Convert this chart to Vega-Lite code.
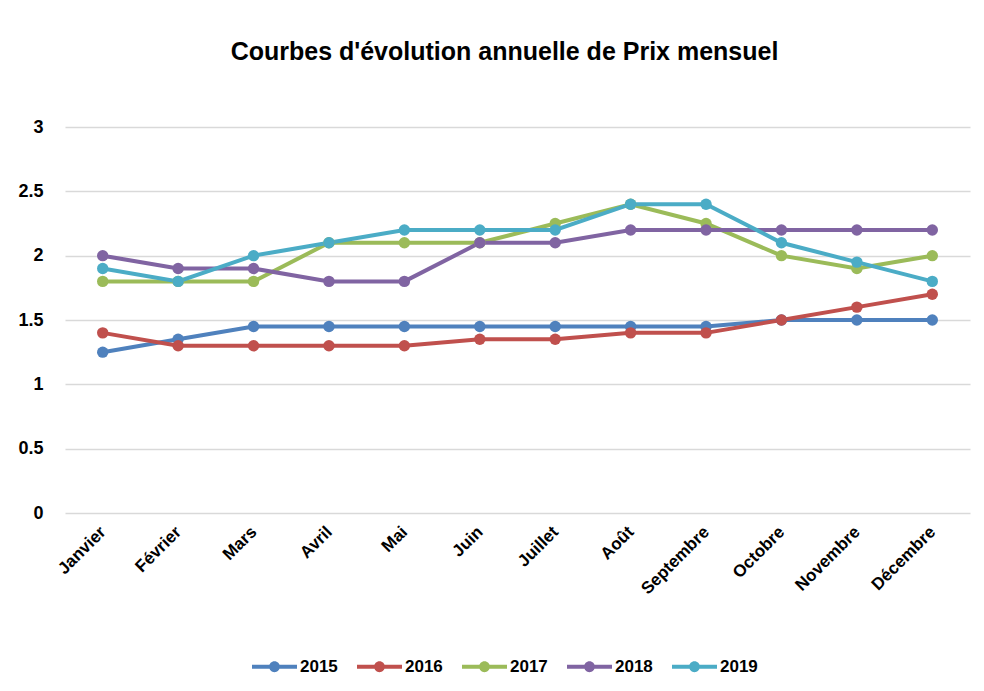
{
  "$schema": "https://vega.github.io/schema/vega-lite/v6.json",
  "width": 905,
  "height": 386,
  "autosize": "none",
  "padding": {"left": 65, "top": 127, "right": 14, "bottom": 178},
  "background": "white",
  "config": {"view": {"stroke": null}},
  "title": {
    "text": "Courbes d'évolution annuelle de Prix mensuel",
    "font": "Liberation Sans",
    "fontSize": 25,
    "fontWeight": "bold",
    "color": "#000000",
    "anchor": "middle",
    "baseline": "alphabetic",
    "offset": 33,
    "dx": -13
  },
  "data": {
    "values": [
      {"mois": "Janvier", "annee": "2015", "prix": 1.25},
      {"mois": "Février", "annee": "2015", "prix": 1.35},
      {"mois": "Mars", "annee": "2015", "prix": 1.45},
      {"mois": "Avril", "annee": "2015", "prix": 1.45},
      {"mois": "Mai", "annee": "2015", "prix": 1.45},
      {"mois": "Juin", "annee": "2015", "prix": 1.45},
      {"mois": "Juillet", "annee": "2015", "prix": 1.45},
      {"mois": "Août", "annee": "2015", "prix": 1.45},
      {"mois": "Septembre", "annee": "2015", "prix": 1.45},
      {"mois": "Octobre", "annee": "2015", "prix": 1.5},
      {"mois": "Novembre", "annee": "2015", "prix": 1.5},
      {"mois": "Décembre", "annee": "2015", "prix": 1.5},
      {"mois": "Janvier", "annee": "2016", "prix": 1.4},
      {"mois": "Février", "annee": "2016", "prix": 1.3},
      {"mois": "Mars", "annee": "2016", "prix": 1.3},
      {"mois": "Avril", "annee": "2016", "prix": 1.3},
      {"mois": "Mai", "annee": "2016", "prix": 1.3},
      {"mois": "Juin", "annee": "2016", "prix": 1.35},
      {"mois": "Juillet", "annee": "2016", "prix": 1.35},
      {"mois": "Août", "annee": "2016", "prix": 1.4},
      {"mois": "Septembre", "annee": "2016", "prix": 1.4},
      {"mois": "Octobre", "annee": "2016", "prix": 1.5},
      {"mois": "Novembre", "annee": "2016", "prix": 1.6},
      {"mois": "Décembre", "annee": "2016", "prix": 1.7},
      {"mois": "Janvier", "annee": "2017", "prix": 1.8},
      {"mois": "Février", "annee": "2017", "prix": 1.8},
      {"mois": "Mars", "annee": "2017", "prix": 1.8},
      {"mois": "Avril", "annee": "2017", "prix": 2.1},
      {"mois": "Mai", "annee": "2017", "prix": 2.1},
      {"mois": "Juin", "annee": "2017", "prix": 2.1},
      {"mois": "Juillet", "annee": "2017", "prix": 2.25},
      {"mois": "Août", "annee": "2017", "prix": 2.4},
      {"mois": "Septembre", "annee": "2017", "prix": 2.25},
      {"mois": "Octobre", "annee": "2017", "prix": 2.0},
      {"mois": "Novembre", "annee": "2017", "prix": 1.9},
      {"mois": "Décembre", "annee": "2017", "prix": 2.0},
      {"mois": "Janvier", "annee": "2018", "prix": 2.0},
      {"mois": "Février", "annee": "2018", "prix": 1.9},
      {"mois": "Mars", "annee": "2018", "prix": 1.9},
      {"mois": "Avril", "annee": "2018", "prix": 1.8},
      {"mois": "Mai", "annee": "2018", "prix": 1.8},
      {"mois": "Juin", "annee": "2018", "prix": 2.1},
      {"mois": "Juillet", "annee": "2018", "prix": 2.1},
      {"mois": "Août", "annee": "2018", "prix": 2.2},
      {"mois": "Septembre", "annee": "2018", "prix": 2.2},
      {"mois": "Octobre", "annee": "2018", "prix": 2.2},
      {"mois": "Novembre", "annee": "2018", "prix": 2.2},
      {"mois": "Décembre", "annee": "2018", "prix": 2.2},
      {"mois": "Janvier", "annee": "2019", "prix": 1.9},
      {"mois": "Février", "annee": "2019", "prix": 1.8},
      {"mois": "Mars", "annee": "2019", "prix": 2.0},
      {"mois": "Avril", "annee": "2019", "prix": 2.1},
      {"mois": "Mai", "annee": "2019", "prix": 2.2},
      {"mois": "Juin", "annee": "2019", "prix": 2.2},
      {"mois": "Juillet", "annee": "2019", "prix": 2.2},
      {"mois": "Août", "annee": "2019", "prix": 2.4},
      {"mois": "Septembre", "annee": "2019", "prix": 2.4},
      {"mois": "Octobre", "annee": "2019", "prix": 2.1},
      {"mois": "Novembre", "annee": "2019", "prix": 1.95},
      {"mois": "Décembre", "annee": "2019", "prix": 1.8}
    ]
  },
  "encoding": {
    "x": {
      "field": "mois",
      "type": "nominal",
      "sort": ["Janvier", "Février", "Mars", "Avril", "Mai", "Juin", "Juillet", "Août", "Septembre", "Octobre", "Novembre", "Décembre"],
      "title": null,
      "axis": {
        "labelAngle": -45,
        "labelAlign": "right",
        "labelBaseline": "middle",
        "labelPadding": 16,
        "labelFont": "Liberation Sans",
        "labelFontSize": 17,
        "labelFontWeight": "bold",
        "labelColor": "#000000",
        "ticks": false,
        "domain": false,
        "grid": false
      }
    },
    "y": {
      "field": "prix",
      "type": "quantitative",
      "scale": {"domain": [0, 3], "nice": false},
      "title": null,
      "axis": {
        "values": [0, 0.5, 1, 1.5, 2, 2.5, 3],
        "format": "~g",
        "labelFont": "Liberation Sans",
        "labelFontSize": 18,
        "labelFontWeight": "bold",
        "labelColor": "#000000",
        "labelPadding": 22,
        "ticks": false,
        "domain": false,
        "grid": true,
        "gridColor": "#d9d9d9",
        "gridWidth": 1.5
      }
    },
    "color": {
      "field": "annee",
      "type": "nominal",
      "scale": {
        "domain": ["2015", "2016", "2017", "2018", "2019"],
        "range": ["#4F81BD", "#C0504D", "#9BBB59", "#8064A2", "#4BACC6"]
      },
      "legend": {
        "title": null,
        "orient": "none",
        "direction": "horizontal",
        "legendX": 187,
        "legendY": 517,
        "symbolType": "M-1,-0.09 L1,-0.09 L1,0.09 L-1,0.09 Z M-0.24,0 A0.24,0.24 0 1,1 0.24,0 A0.24,0.24 0 1,1 -0.24,0 Z",
        "symbolSize": 2025,
        "symbolStrokeWidth": 0,
        "symbolOpacity": 1,
        "labelFont": "Liberation Sans",
        "labelFontSize": 17,
        "labelFontWeight": "bold",
        "labelColor": "#000000",
        "labelOffset": 3,
        "columnPadding": 19
      }
    }
  },
  "layer": [
    {"mark": {"type": "line", "strokeWidth": 4}},
    {"mark": {"type": "point", "filled": true, "size": 130, "opacity": 1}}
  ]
}
